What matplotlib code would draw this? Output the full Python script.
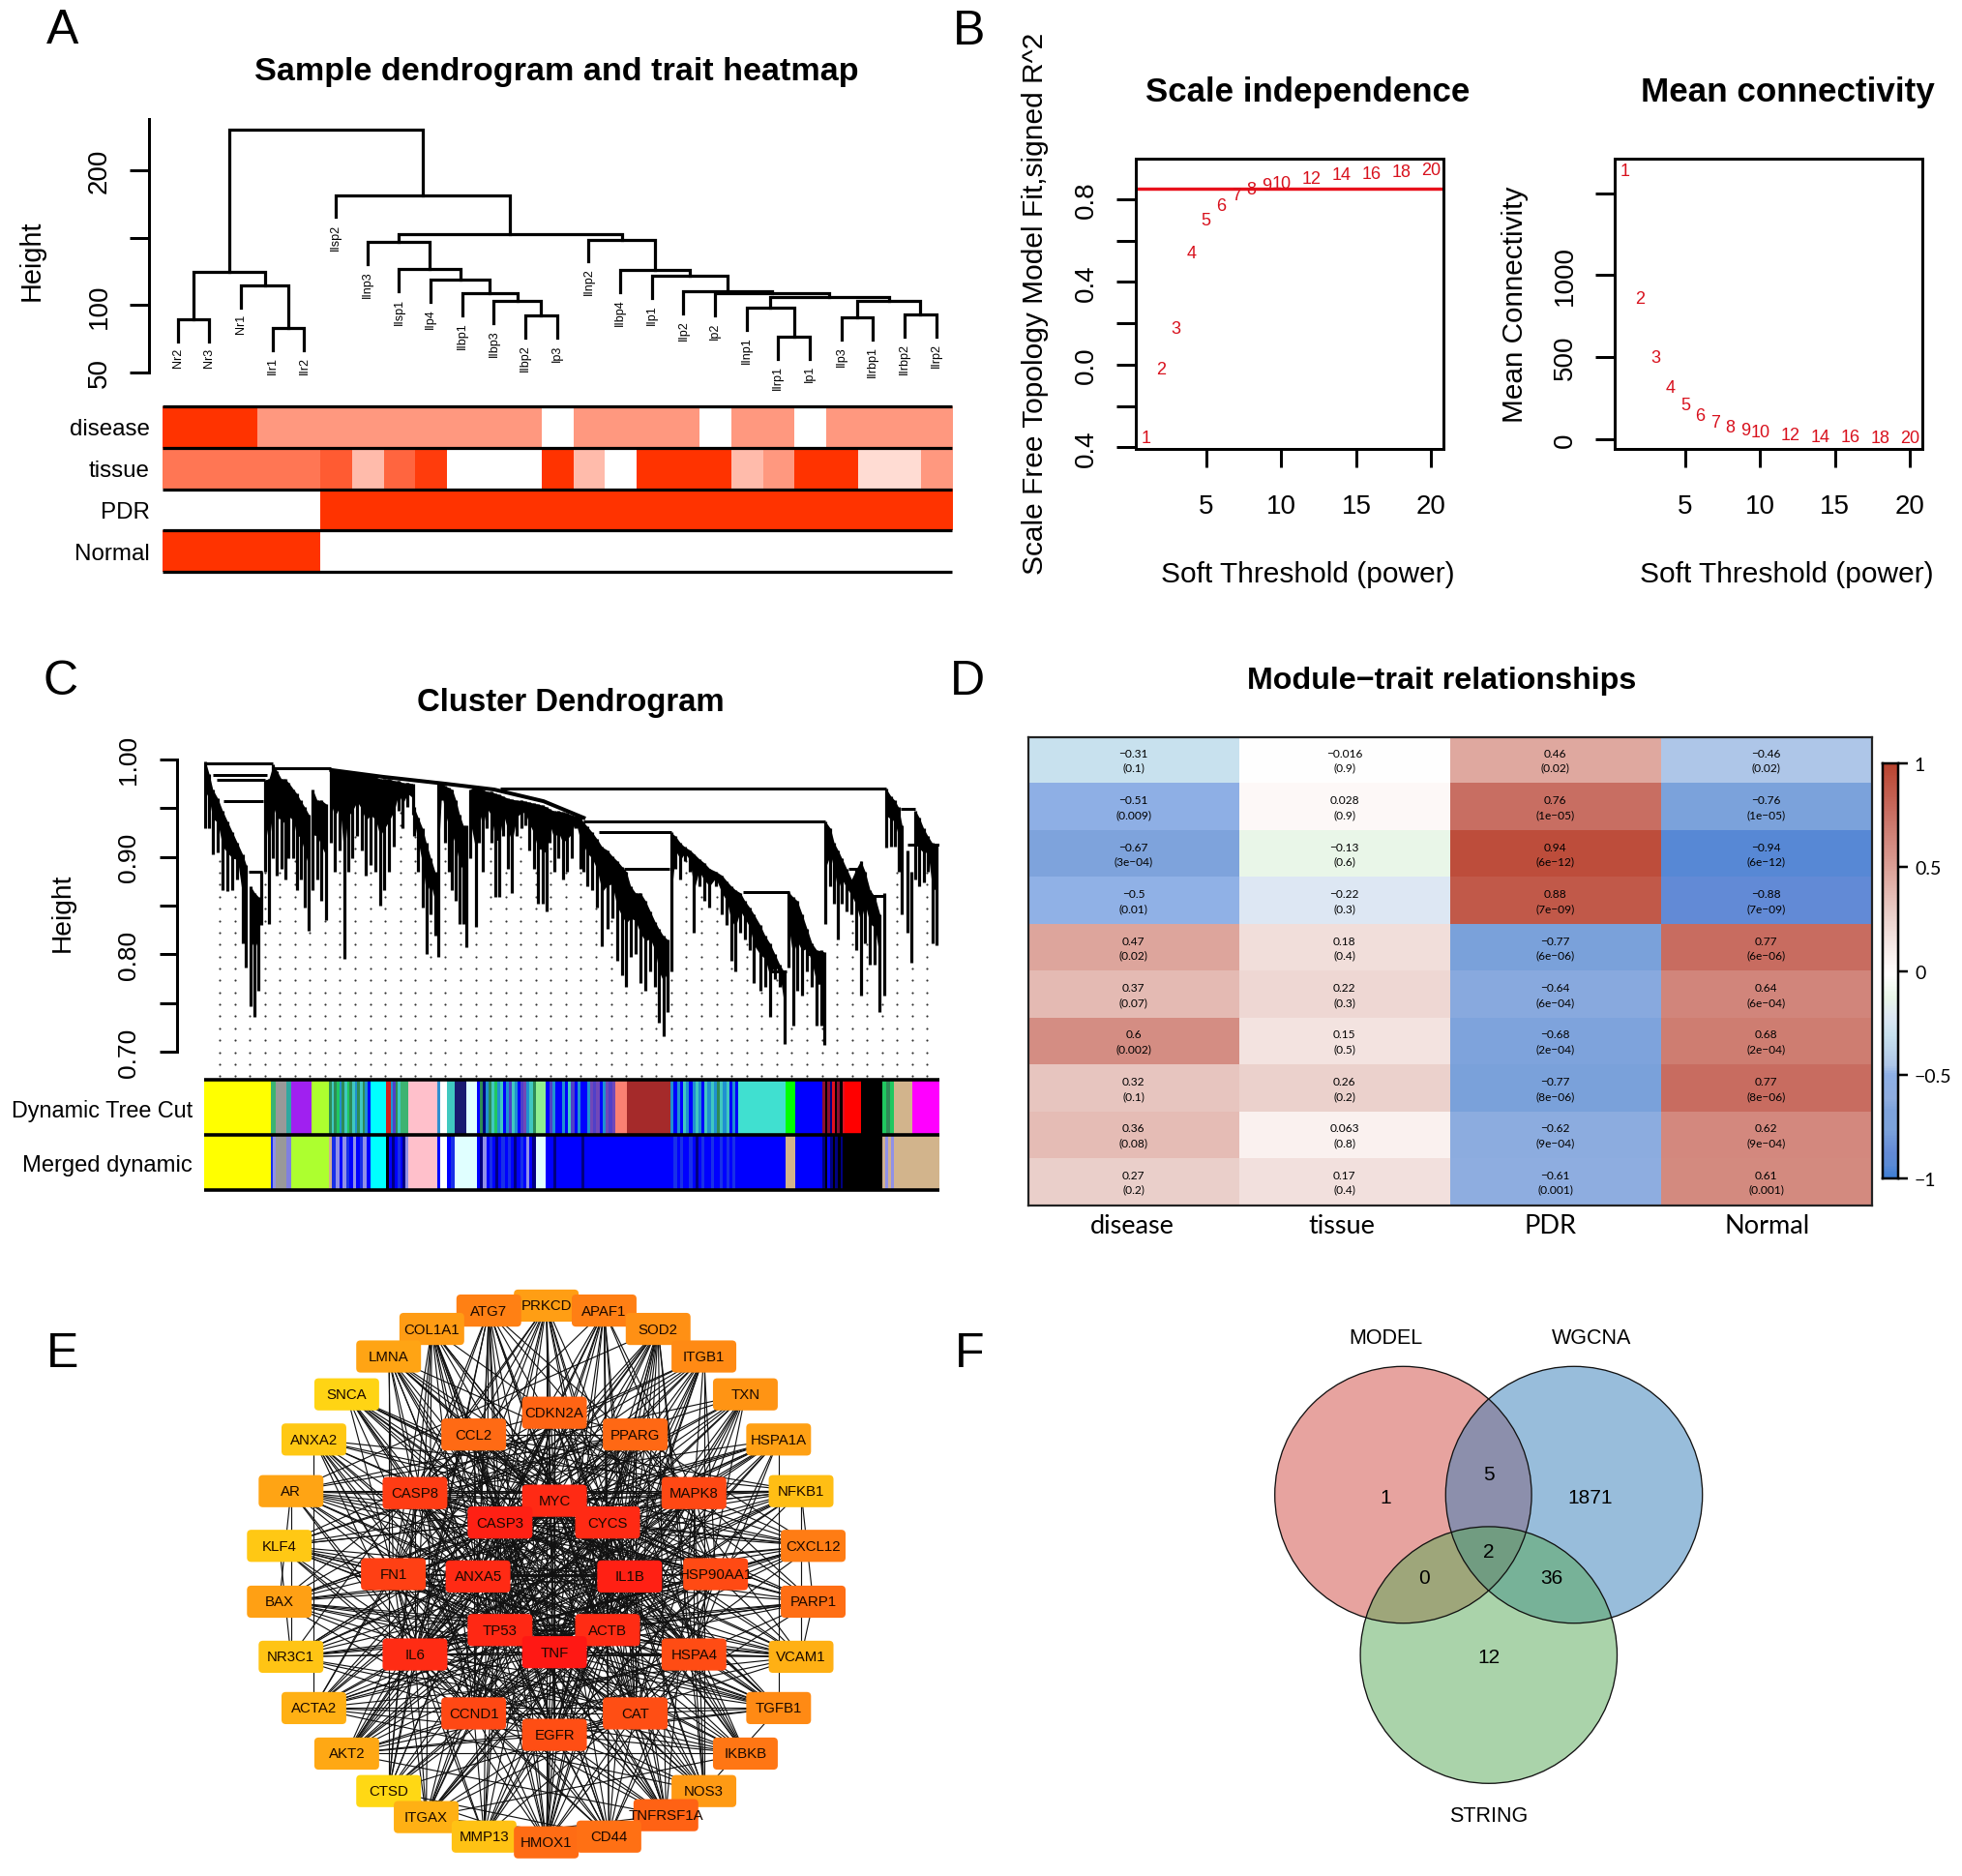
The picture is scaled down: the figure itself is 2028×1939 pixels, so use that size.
import numpy as np
import matplotlib
matplotlib.use("Agg")
import matplotlib.pyplot as plt
from matplotlib.colors import LinearSegmentedColormap
from matplotlib.collections import LineCollection
from matplotlib.patches import FancyBboxPatch, Circle
from itertools import combinations

plt.rcParams['font.family'] = ['Liberation Sans', 'DejaVu Sans']

# ---------- Panel A data ----------
leaf_labels = ["Nr2","Nr3","Nr1","IIr1","IIr2","IIsp2","IInp3","IIsp1","IIp4","IIbp1","IIbp3","IIbp2","Ip3",
               "IInp2","IIbp4","IIp1","IIp2","Ip2","IInp1","IIrp1","Ip1","IIp3","IIrbp1","IIrbp2","IIrp2"]
merges_a = [(0,1,89.5),(3,4,83),(2,26,114.7),(25,27,124.3),(11,12,92),(10,29,102.8),(9,30,109),(8,31,118.6),
            (7,32,126.6),(6,33,146.9),(19,20,76.6),(18,35,98),(21,22,90.7),(23,24,93),(37,38,103.4),(36,39,106),
            (17,40,108.5),(16,41,110.5),(15,42,121.5),(14,43,126),(13,44,148.6),(34,45,152.5),(5,46,181.6),(28,47,230)]
trait_names = ["disease","tissue","PDR","Normal"]
trait_disease = [1,1,1,.5,.5,.5,.5,.5,.5,.5,.5,.5,0,.5,.5,.5,.5,0,.5,.5,0,.5,.5,.5,.5]
trait_tissue = [.67,.67,.67,.67,.67,.8,.33,.75,.95,0,0,0,1,.33,0,1,1,1,.33,.5,1,1,.17,.17,.5]
trait_pdr = [0]*5 + [1]*20
trait_normal = [1]*5 + [0]*20

# ---------- Panel B data ----------
powers = [1,2,3,4,5,6,7,8,9,10,12,14,16,18,20]
sft_fit = [-.355,-.022,.177,.539,.698,.77,.82,.849,.869,.876,.902,.917,.926,.933,.941]
mean_k = [1640,857,500,313,208,143,103,72,54,42,26,16,12,7,5]

# ---------- Panel C data ----------
stem_pos = [2,8,14,22,30,38,46,54,62,68,75,82,88,93,99,105,
 112,118,125,131,137,145,150,156,163,170,176,183,190,198,
 205,212,220,227,233,240,248,255,262,270,278,285,292,300,308,315,322,330,338,
 340,347,354,360,367,374,379,385,390,396,402,408,414,420,425,431,
 440,446,452,458,465,472,478,485,492,499,507,514,520,527,534,541,548,555,560,567,574,581,588,595,602,610,
 614,621,629,637,645,653,661,669,677,684,691,699,707,715,723,731,737,744,751,757,
 764,772,779,787,794,802,810,819,829,839,847,854,861,869,876,884,891,901,909,917,925,933,940,947,954,961,969,977,985,993,1000,1005,
 1007,1015,1021,1027,1033,1041,1049,1057,1064,1071,1079,1087,1095,1102,
 1105,1113,1119,1125,1131,1139,1146,1153,1159,1166,1173,1180,1187]
stem_top = [.998,.985,.969,.960,.947,.936,.925,.914,.903,.892,.870,.863,.859,.885,.979,.980,
 .995,.988,.980,.980,.976,.969,.965,.958,.951,.943,.969,.958,.958,.954,
 .989,.988,.988,.988,.988,.986,.986,.984,.984,.984,.982,.980,.980,.980,.978,.978,.976,.976,.975,
 .951,.940,.929,.914,.899,.885,.976,.975,.973,.971,.969,.958,.943,.932,.932,.969,
 .973,.971,.969,.967,.967,.965,.964,.962,.960,.959,.958,.958,.957,.956,.955,.954,.953,.951,.949,.947,.947,.946,.945,.943,.942,.940,
 .936,.931,.925,.918,.910,.907,.901,.896,.890,.885,.870,.863,.863,.855,.844,.833,.826,.819,.815,.925,
 .921,.914,.910,.907,.903,.898,.894,.888,.885,.881,.875,.870,.866,.863,.855,.848,.841,.830,.819,.811,.800,.789,.782,.864,.859,.855,.841,.826,.811,.804,.804,.802,
 .936,.929,.914,.907,.899,.888,.877,.888,.896,.885,.866,.859,.841,.863,
 .970,.962,.958,.951,.932,.907,.885,.947,.940,.929,.921,.914,.912]
stem_bot = [.929,.929,.903,.905,.866,.865,.866,.877,.811,.786,.747,.736,.763,.830,.885,.831,
 .899,.881,.888,.877,.899,.899,.866,.877,.848,.824,.866,.877,.855,.835,
 .914,.885,.907,.795,.885,.899,.921,.907,.881,.892,.885,.850,.866,.885,.910,.947,.929,.951,.943,
 .921,.885,.848,.800,.841,.819,.797,.958,.914,.885,.866,.855,.831,.831,.807,.899,
 .828,.914,.885,.929,.914,.859,.859,.921,.888,.863,.921,.929,.932,.907,.888,.852,.852,.844,.914,.885,.899,.877,.885,.899,.929,.888,
 .885,.870,.866,.848,.808,.826,.837,.793,.778,.767,.797,.800,.771,.763,.782,.767,.730,.716,.741,.782,
 .888,.877,.896,.885,.822,.870,.855,.848,.870,.841,.830,.793,.782,.822,.815,.804,.771,.763,.767,.736,.775,.767,.708,.786,.727,.763,.758,.782,.767,.727,.727,.707,
 .831,.870,.852,.815,.852,.844,.841,.804,.758,.811,.789,.789,.741,.758,
 .909,.910,.910,.885,.841,.822,.791,.877,.870,.874,.885,.811,.809]
branch_x1 = [0,14,21,32,72,112,479,614,640,680,874,1044,1060,1128,1140,919,979]
branch_x2 = [112,102,99,96,94,206,1105,1007,757,754,948,1065,1101,1152,1191,944,1004]
branch_h = [.996,.984,.979,.957,.885,.991,.970,.936,.925,.888,.864,.888,.860,.949,.912,.782,.800]
spine_pos = [206,290,390,470,550,615]
spine_h = [.989,.982,.975,.969,.957,.940]
guide_pos = np.arange(25, 1191, 24.4)

Y,G,C,K,W_ = 'yellow','#00FF00','cyan','black','white'
stripe = {'g':'#2E8B57','t':'#40C8C0','s':'#2090D0','b':'#0000FF','p':'#5040C8','v':'#7048B8','l':'#9090E8',
          'n':'#000080','k':'#000000','d':'#8B1030','r':'#E01020','h':'#20C860','a':'#D0B090','e':'#1830E8'}
cut_blocks = [(0,108,Y),(108,116,'mediumseagreen'),(116,134,'#999999'),(134,141,'#30A8A0'),(141,174,'#A020F0'),(174,202,'greenyellow'),
 (202,269,'gtghsgthgtsgtgsb'),(269,295,C),(295,302,'#D02020'),(302,318,'spgt'),(318,331,'#3CB371'),(331,378,'#FFC0CB'),(378,382,'#3090D0'),
 (382,394,W_),(394,406,'#40C8C0'),(406,425,'#191970'),(425,442,'#E0FFFF'),(442,537,'bgnsgthstbsptsbpvstg'),(537,554,'#90EE90'),
 (554,666,'bpsbbsbtpbsbbsvpvbsvpv'),(666,685,'#FA8072'),(685,756,'#A52A2A'),(756,866,'sbsbtsbstsbtstsgtstbsb'),(866,942,'#40E0D0'),
 (942,958,G),(958,1002,'#0000FF'),(1002,1038,'dkdnrkdkr'),(1038,1064,'#FF0000'),(1064,1099,K),(1099,1118,'hgh'),(1118,1148,'#D2B48C'),(1148,1191,'#FF00FF')]
merged_blocks = [(0,108,Y),(108,116,'el'),(116,134,'#999999'),(134,141,'#8080E0'),(141,202,'greenyellow'),
 (202,269,'aelbleblbelb'),(269,295,C),(295,331,'kbnbebnl'),(331,378,'#FFC0CB'),(378,382,'#0000FF'),(382,394,W_),(394,406,'be'),
 (406,442,'#E0FFFF'),(442,537,'bnlbebnbebebnbeblbn'),(537,554,'#E0FFFF'),(554,620,'bbbnbbbbbbbbbbnb'),(620,756,'#0000FF'),
 (756,866,'bebebbebnbebbebbebebeb'),(866,942,'#0000FF'),(942,958,'#D2B48C'),(958,1002,'#0000FF'),(1002,1035,'nkbnknkn'),(1035,1099,K),
 (1099,1118,'alal'),(1118,1191,'#D2B48C')]

# ---------- Panel D data ----------
trait_columns = ["disease","tissue","PDR","Normal"]
cor_values = [[-.31,-.016,.46,-.46],[-.51,.028,.76,-.76],[-.67,-.13,.94,-.94],[-.5,-.22,.88,-.88],[.47,.18,-.77,.77],
              [.37,.22,-.64,.64],[.6,.15,-.68,.68],[.32,.26,-.77,.77],[.36,.063,-.62,.62],[.27,.17,-.61,.61]]
cor_text = [["-0.31","-0.016","0.46","-0.46"],["-0.51","0.028","0.76","-0.76"],["-0.67","-0.13","0.94","-0.94"],["-0.5","-0.22","0.88","-0.88"],
            ["0.47","0.18","-0.77","0.77"],["0.37","0.22","-0.64","0.64"],["0.6","0.15","-0.68","0.68"],["0.32","0.26","-0.77","0.77"],
            ["0.36","0.063","-0.62","0.62"],["0.27","0.17","-0.61","0.61"]]
p_text = [["0.1","0.9","0.02","0.02"],["0.009","0.9","1e-05","1e-05"],["3e-04","0.6","6e-12","6e-12"],["0.01","0.3","7e-09","7e-09"],
          ["0.02","0.4","6e-06","6e-06"],["0.07","0.3","6e-04","6e-04"],["0.002","0.5","2e-04","2e-04"],["0.1","0.2","8e-06","8e-06"],
          ["0.08","0.8","9e-04","9e-04"],["0.2","0.4","0.001","0.001"]]
cmap_vals = [-1,-.94,-.88,-.77,-.67,-.62,-.5,-.46,-.31,-.22,-.13,-.016,.028,.27,.46,.76,.94,1]
cmap_cols = ['#3D7ED6','#5A8AD5','#638AD7','#7BA2DB','#7FA4DD','#8EADE0','#8FB0E6','#AEC6E8','#C8E1EE','#DEE8F4','#E9F6E8','#FFFFFF','#FDF8F7','#EBD0CB','#DFA89F','#C96F63','#BE4F3D','#B8432F']

# ---------- Panel E data ----------
node_names = ["PRKCD","ATG7","APAF1","COL1A1","SOD2","LMNA","ITGB1","SNCA","TXN","ANXA2","HSPA1A","AR","NFKB1","KLF4","CXCL12","BAX","PARP1",
 "NR3C1","VCAM1","ACTA2","TGFB1","AKT2","IKBKB","CTSD","NOS3","ITGAX","TNFRSF1A","MMP13","HMOX1","CD44",
 "CDKN2A","CCL2","PPARG","CASP8","MAPK8","MYC","CASP3","CYCS","FN1","ANXA5","IL1B","HSP90AA1","TP53","ACTB","IL6","TNF","HSPA4","CCND1","CAT","EGFR"]
node_x = [772,639,906,507,1031,407,1137,310,1233,234,1310,181,1362,154,1390,154,1390,181,1362,234,1310,310,1233,407,1137,494,1049,628,772,917,
 791,604,978,468,1114,791,665,914,418,614,965,1164,665,914,468,791,1114,604,978,791]
node_y = [77,90,90,138,138,210,210,309,309,427,427,562,562,705,705,851,851,995,995,1129,1129,1248,1248,1346,1346,1414,1409,1465,1480,1465,
 357,414,414,567,567,587,644,644,779,785,785,779,925,925,989,983,989,1143,1143,1199]
node_color = ['#FF9E14','#FF8014','#FF7F14','#FF9C14','#FF9014','#FFA414','#FF8A14','#FFD414','#FF9414','#FFC814','#FFA014','#FFA414','#FFBE14','#FFC814','#FF7C14','#FFA014','#FF6E14',
 '#FFC414','#FFB014','#FFB014','#FF8A14','#FFA814','#FF7614','#FFD814','#FF9A14','#FFB014','#FF6214','#FFC214','#FF6C14','#FF7014',
 '#FF6414','#FF6A14','#FF6814','#FF3C14','#FF4814','#FF2A14','#FF2014','#FF2A14','#FF4014','#FF2A14','#FF2014','#FF4A14','#FF2814','#FF2C14','#FF2C14','#FF1814','#FF4C14','#FF4814','#FF4E14','#FF4E14']
outer_links = {
 0:[45,42,40,36,35,37,49,44,39,43,48,33],1:[45,42,36,37,35,33,39,44,43,34,41,47,38],2:[45,42,36,37,33,34,35,41,43,39,40,48],
 3:[45,44,40,38,43,42,49,36,47,31,46,39],4:[45,40,44,42,48,36,32,37,46,49,39,43,35],5:[42,36,43,40,35,45,38,39,47,37,33,41],
 6:[45,44,40,38,43,42,49,34,36,41,39,47,33],7:[42,45,36,35,40,39,43,33,37,41,44,46],8:[45,42,40,44,36,48,34,37,46,35,39,43],
 9:[42,35,43,38,45,39,36,49,40,44,47],10:[45,42,36,37,41,46,34,39,33,44,35,43],11:[42,45,35,33,36,40,39,44,43,38,41,47,32],
 12:[45,44,40,35,42,34,36,33,47,49,37,39,31],13:[42,35,45,38,36,39,44,40,49,43,47,32],14:[45,44,40,35,42,31,47,37,49,39,32,36,41],
 15:[42,36,37,45,33,35,39,44,43,47,40,48],16:[42,36,37,45,33,34,35,39,44,40,48,43,46],17:[45,42,44,40,36,39,35,32,43,48,47],
 18:[45,44,40,35,42,49,37,36,39,41,46,43,32],19:[43,42,38,45,36,39,44,35,41,47,49,34],20:[45,44,42,40,38,35,49,36,46,48,39,43,37],
 21:[42,45,36,35,40,47,37,44,39,32,49,34,46],22:[45,44,40,42,35,36,47,37,48,49,46,39,33],23:[42,45,36,40,39,37,43,44,48,33],
 24:[45,40,44,42,36,43,48,37,34,46,49,39,35],25:[45,44,40,42,38,43,49,36,47,48,34],26:[45,42,40,44,36,37,33,34,35,49,39,47,48],
 27:[45,44,40,42,38,43,49,35,47,36,46],28:[45,44,40,42,36,48,49,37,35,39,47,32,43,46],29:[45,44,40,42,38,43,35,49,47,48,36,46,41]}
outer_pairs = [(0,21),(0,22),(0,17),(0,19),(1,23),(1,26),(2,25),(2,21),(3,16),(3,22),(3,29),(4,11),(4,19),(4,25),(5,20),(5,26),(5,14),
 (6,13),(6,15),(6,27),(7,16),(7,28),(7,20),(8,11),(8,13),(8,28),(9,12),(9,14),(9,29),(10,15),(10,17),(10,25),(11,14),(11,12),(11,18),
 (11,15),(12,13),(12,16),(12,17),(13,20),(13,17),(13,18),(14,15),(14,19),(15,18),(15,20),(16,17),(16,18),(17,22),(18,21),(18,19),
 (19,24),(19,20),(20,21),(20,24),(21,22),(21,26),(22,25),(23,29),(23,28),(25,29),(26,27),(0,28),(1,28),(2,28),(3,23),(4,24),(6,24),(3,25),(4,26),(5,23),(9,19),(10,20),(11,17),(12,18),(2,29),(1,27)]

# ---------- Panel F data ----------
set_names = ["MODEL","WGCNA","STRING"]
venn_counts = ["1","1871","12","5","0","36","2"]

# ---------- Helpers ----------
W, H = 2028, 1940
PT = 0.72
fig = plt.figure(figsize=(20.28, 19.4), dpi=100)
def pax(x0, y0, x1, y1, **kw):
    return fig.add_axes([x0/W, 1-y1/H, (x1-x0)/W, (y1-y0)/H], **kw)
page = pax(0, 0, W, H, zorder=20)
page.set_xlim(0, W); page.set_ylim(H, 0); page.axis('off'); page.patch.set_alpha(0)
rend = fig.canvas.get_renderer()
def txt(x, y, s, length=None, size=20, **kw):
    kw.setdefault('ha', 'center'); kw.setdefault('va', 'center')
    if kw.get('rotation'):
        x += 2.5
    else:
        y += 2
    t = page.text(x, y, s, fontsize=size, **kw)
    if length:
        b = t.get_window_extent(rend)
        cur = max(b.width, b.height)
        t.set_fontsize(size*length/cur)
    return t
for s, x, y in [("A",65,30),("B",1002,31),("C",63,703),("D",1000,703),("E",65,1398),("F",1002,1398)]:
    txt(x, y, s, size=36)

# ---------- Panel A ----------
axA = pax(167.5, 124, 984, 386)
axA.set_xlim(0, 25); axA.set_ylim(50, 238)
axA.patch.set_alpha(0)
for k in ['top','right','bottom']: axA.spines[k].set_visible(False)
axA.spines['left'].set_position(('outward', 13.5*PT)); axA.spines['left'].set_bounds(50, 238)
axA.spines['left'].set_linewidth(3*PT)
axA.set_xticks([])
axA.set_yticks([50,100,150,200]); axA.set_yticklabels(["50","100","","200"], rotation=90, va='center', fontsize=20)
axA.tick_params(axis='y', length=20*PT, width=3*PT, pad=13)
pos = {i:(i+.5, None) for i in range(25)}
hang = 16.4
for i, (a, b, h) in enumerate(merges_a):
    xa, ha_ = pos[a]; xb, hb_ = pos[b]
    axA.plot([xa, xa, xb, xb], [(ha_ if ha_ else h-hang), h, h, (hb_ if hb_ else h-hang)], color='k', lw=3.2*PT, clip_on=False, solid_joinstyle='miter')
    if ha_ is None: axA.text(xa, h-hang-4.5, leaf_labels[a], rotation=90, ha='center', va='top', fontsize=9, clip_on=False)
    if hb_ is None: axA.text(xb, h-hang-4.5, leaf_labels[b], rotation=90, ha='center', va='top', fontsize=9, clip_on=False)
    pos[25+i] = ((xa+xb)/2, h)
txt(30, 269, "Height", length=83, rotation=90)
txt(575, 72, "Sample dendrogram and trait heatmap", length=622, fontweight='bold')
axH = pax(167.5, 421, 984, 592)
white_red = LinearSegmentedColormap.from_list('wr', ['#FFFFFF', '#FF3300'])
axH.imshow([trait_disease, trait_tissue, trait_pdr, trait_normal], cmap=white_red, vmin=0, vmax=1, aspect='auto',
           interpolation='nearest', extent=(0,25,4,0))
axH.hlines([0,1,2,3,4], 0, 25, color='k', lw=3.2*PT, clip_on=False)
axH.axis('off')
for i, n in enumerate(trait_names):
    txt(154.5, 421+(i+.5)*42.75, n, size=17.4, ha='right')

# ---------- Panel B ----------
axB1 = pax(1173.7, 165.3, 1491.9, 464.6)
axB1.set_xlim(.29, 20.8); axB1.set_ylim(-.406, .995)
axB2 = pax(1669, 165.3, 1986.6, 464.6)
axB2.set_xlim(.29, 20.8); axB2.set_ylim(-58, 1710)
for ax in (axB1, axB2):
    for sp in ax.spines.values(): sp.set_linewidth(3*PT)
    ax.set_xticks([5,10,15,20]); ax.set_xticklabels(["5","10","15","20"], fontsize=20)
    ax.tick_params(axis='x', length=19*PT, width=3*PT, pad=20)
    ax.tick_params(axis='y', length=20*PT, width=3*PT, pad=13)
axB1.set_yticks([-.4,-.2,0,.2,.4,.6,.8]); axB1.set_yticklabels(["0.4","","0.0","","0.4","","0.8"], rotation=90, va='center', fontsize=20)
axB2.set_yticks([0,500,1000,1500]); axB2.set_yticklabels(["0","500","1000",""], rotation=90, va='center', fontsize=20)
axB1.axhline(.85, color='#E8101C', lw=3.4*PT)
for p, v, k in zip(powers, sft_fit, mean_k):
    axB1.text(p, v, str(p), color='#D8101C', fontsize=13, ha='center', va='center')
    axB2.text(p, k, str(p), color='#D8101C', fontsize=13, ha='center', va='center')
txt(1352, 93, "Scale independence", length=336, fontweight='bold')
txt(1848, 93, "Mean connectivity", length=303, fontweight='bold')
txt(1352, 592, "Soft Threshold (power)", length=303)
txt(1847, 592, "Soft Threshold (power)", length=303)
txt(1068, 314, "Scale Free Topology Model Fit,signed R^2", length=558, rotation=90)
txt(1564, 315, "Mean Connectivity", length=244, rotation=90)

# ---------- Panel C ----------
axC = pax(211, 785.8, 970.7, 1117)
axC.set_xlim(0, 1191); axC.set_ylim(.6713, 1.0)
axC.patch.set_alpha(0)
for k in ['top','right','bottom']: axC.spines[k].set_visible(False)
axC.spines['left'].set_position(('outward', 28*PT)); axC.spines['left'].set_bounds(.70, 1.0); axC.spines['left'].set_linewidth(3*PT)
axC.set_xticks([])
axC.set_yticks([.7,.75,.8,.85,.9,.95,1.0]); axC.set_yticklabels(["0.70","","0.80","","0.90","","1.00"], rotation=90, va='center', fontsize=19)
axC.tick_params(axis='y', length=18.5*PT, width=3*PT, pad=14)
sp_ = np.array(stem_pos, float); st = np.array(stem_top); sb = np.array(stem_bot)
gx, gy = [], []
levels = np.arange(.675, 1.0, .01227)
for g in guide_pos:
    lim = sb[np.argmin(np.abs(sp_-g))]
    for l in levels:
        if l < lim:
            gx.append(g); gy.append(l)
axC.scatter(gx, gy, s=2.4, color='#333333', linewidths=0, zorder=1)
axC.vlines(sp_, sb, st, color='k', lw=2.3, zorder=2)
# solid black mass under the upper edge of each run of neighbouring stems
breaks = [0] + [i+1 for i in range(len(sp_)-1) if abs(st[i+1]-st[i]) > .02 or sp_[i+1]-sp_[i] > 12] + [len(sp_)]
for i0, i1 in zip(breaks[:-1], breaks[1:]):
    if i1-i0 > 1:
        core = st[i0:i1] - .45*(st[i0:i1]-sb[i0:i1])
        axC.fill_between(sp_[i0:i1], core, st[i0:i1], color='k', linewidth=0, zorder=2)
axC.hlines(branch_h, branch_x1, branch_x2, color='k', lw=3*PT, zorder=3)
axC.plot(spine_pos, spine_h, color='k', lw=4*PT, zorder=3)
txt(62.5, 943, "Height", length=81, rotation=90)
txt(590, 725, "Cluster Dendrogram", length=317, fontweight='bold')

axBar = pax(211, 1117.3, 970.7, 1231.2)
axBar.set_xlim(0, 1191); axBar.set_ylim(2, 0); axBar.axis('off')
for row, blocks in enumerate([cut_blocks, merged_blocks]):
    for x0, x1, col in blocks:
        if col in ('yellow','cyan','black','white','greenyellow','mediumseagreen') or col.startswith('#'):
            axBar.barh(row+.5, x1-x0, left=x0, height=1, color=col, linewidth=0)
        else:
            w = (x1-x0)/len(col)
            for j, c in enumerate(col):
                axBar.barh(row+.5, w, left=x0+j*w, height=1, color=stripe[c], linewidth=0)
axBar.hlines([0,1,2], 0, 1191, color='k', lw=3.6*PT, clip_on=False)
txt(199, 1147, "Dynamic Tree Cut", length=187, ha='right')
txt(199, 1203.5, "Merged dynamic", length=175, ha='right')

# ---------- Panel D ----------
lo, hi = cmap_vals[0], cmap_vals[-1]
rb = LinearSegmentedColormap.from_list('rb', [((v-lo)/(hi-lo), c) for v, c in zip(cmap_vals, cmap_cols)], N=256)
axD = pax(1062.5, 762.5, 1934.6, 1247)
axD.imshow(cor_values, cmap=rb, vmin=-1, vmax=1, aspect='auto', interpolation='nearest', extent=(0,4,10,0))
axD.set_xticks([]); axD.set_yticks([])
for sp in axD.spines.values(): sp.set_linewidth(2.2*PT); sp.set_color('#222222')
for r in range(10):
    for c in range(4):
        axD.text(c+.5, r+.5-.155, cor_text[r][c].replace('-', '\u2212'), ha='center', va='center', fontsize=8.6, family='Lato')
        axD.text(c+.5, r+.5+.155, "("+p_text[r][c].replace('-', '\u2212')+")", ha='center', va='center', fontsize=8.6, family='Lato')
for x, n in zip([1170,1387,1602,1827], trait_columns):
    txt(x, 1265.5, n, size=19.5, family='Lato')
txt(1490.6, 702, "Module\u2212trait relationships", length=402, fontweight='bold')
axCb = pax(1946, 790, 1962, 1219)
axCb.imshow(np.linspace(1, -1, 256)[:, None], cmap=rb, vmin=-1, vmax=1, aspect='auto', extent=(0,1,-1,1), interpolation='nearest')
axCb.set_xticks([]); axCb.yaxis.tick_right()
axCb.set_yticks([-1,-.5,0,.5,1]); axCb.set_yticklabels(["\u22121","\u22120.5","0","0.5","1"], fontsize=14, family='Lato')
axCb.tick_params(axis='y', length=10*PT, width=2.5*PT, pad=5)
for sp in axCb.spines.values(): sp.set_linewidth(2.5*PT)

# ---------- Panel E ----------
axE = pax(220, 1320, 920, 1940)
axE.set_xlim(0, 1568); axE.set_ylim(1568, 0); axE.axis('off')
segs = []
for a, ps in outer_links.items():
    for b in ps:
        segs.append([(node_x[a], node_y[a]), (node_x[b], node_y[b])])
for a, b in outer_pairs:
    segs.append([(node_x[a], node_y[a]), (node_x[b], node_y[b])])
for a, b in combinations(range(30, 50), 2):
    segs.append([(node_x[a], node_y[a]), (node_x[b], node_y[b])])
axE.add_collection(LineCollection(segs, colors='#111111', linewidths=1.15*PT, zorder=1))
for n, x, y, c in zip(node_names, node_x, node_y, node_color):
    axE.add_patch(FancyBboxPatch((x-75, y-42), 150, 84, boxstyle="round,pad=0,rounding_size=10", mutation_aspect=1.13,
                                 facecolor=c, edgecolor='none', zorder=2))
for n, x, y in zip(node_names, node_x, node_y):
    axE.text(x, y, n, ha='center', va='center', fontsize=10.8, zorder=3, color='#1a0800')

# ---------- Panel F ----------
axF = pax(1290, 1350, 1810, 1910)
axF.set_xlim(1290, 1810); axF.set_ylim(1910, 1350); axF.axis('off')
for (cx, cy), col in zip([(1450.4,1546),(1627,1546),(1538.8,1711.6)], ['#D14941','#337DB9','#57A957']):
    axF.add_patch(Circle((cx, cy), 132.7, facecolor=col, alpha=.5, edgecolor='none'))
for (cx, cy) in [(1450.4,1546),(1627,1546),(1538.8,1711.6)]:
    axF.add_patch(Circle((cx, cy), 132.7, facecolor='none', edgecolor='#111111', lw=1.3*PT))
for (x, y), s in zip([(1432.6,1381.4),(1645,1381.4),(1538.8,1876)], set_names):
    txt(x, y, s, size=15.5)
for (x, y), s in zip([(1432.6,1546.8),(1644,1546.8),(1538.8,1712),(1538.8,1523),(1472.4,1629.6),(1604,1629.6),(1538.8,1603)], venn_counts):
    txt(x, y, s, size=15)

fig.savefig("out.png", dpi=100)
